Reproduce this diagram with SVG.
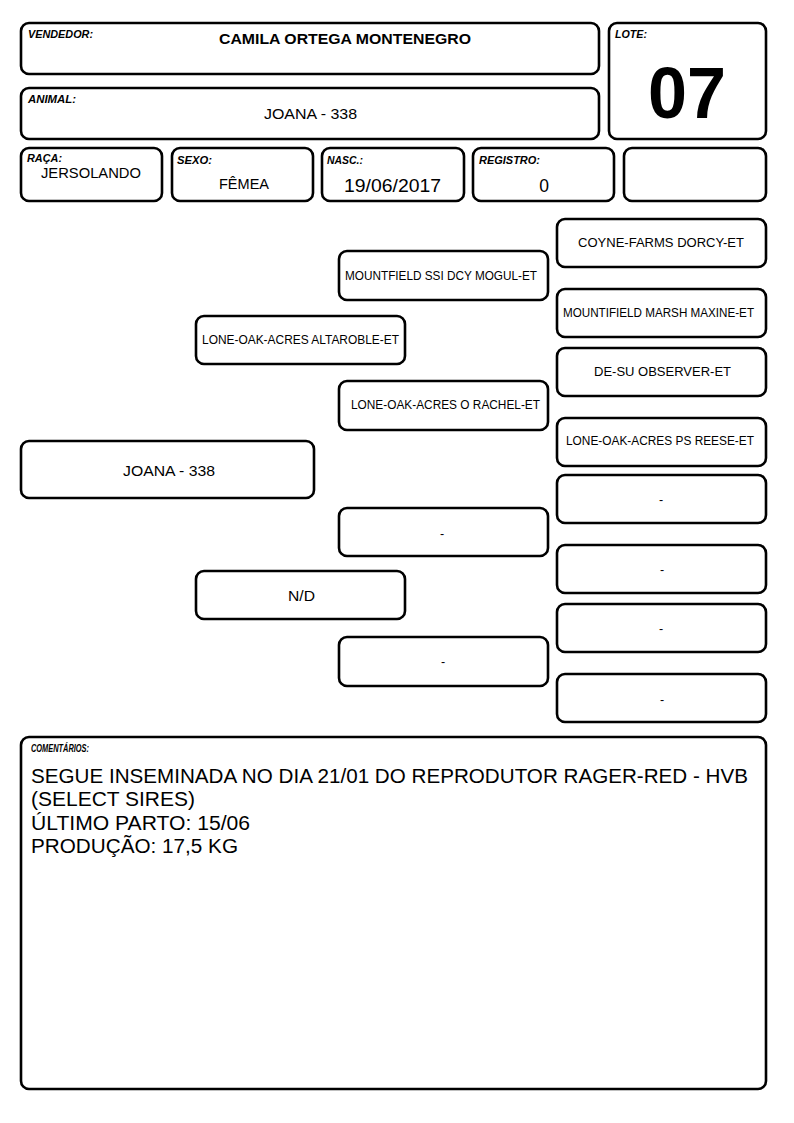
<svg xmlns="http://www.w3.org/2000/svg" width="794" height="1123" viewBox="0 0 794 1123">
<style>
.b{fill:#fff;stroke:#000;stroke-width:2.6}
.l{font-family:"Liberation Sans",Arial,sans-serif;font-weight:bold;font-style:italic;font-size:10px;fill:#000}
.v{font-family:"Liberation Sans",Arial,sans-serif;font-size:15.5px;fill:#000;text-anchor:middle}
.p{font-family:"Liberation Sans",Arial,sans-serif;font-size:12.5px;fill:#000;text-anchor:middle}
.c{font-family:"Liberation Sans",Arial,sans-serif;font-size:20.5px;fill:#000}
</style>
<rect width="794" height="1123" fill="#fff"/>
<g id="vendedor"><rect class="b" x="21" y="23" width="578" height="51" rx="8"/><text class="l" x="28" y="38" textLength="65" lengthAdjust="spacingAndGlyphs">VENDEDOR:</text><text class="v" x="345" y="44" style="font-weight:bold" textLength="252" lengthAdjust="spacingAndGlyphs">CAMILA ORTEGA MONTENEGRO</text></g>
<g id="animal"><rect class="b" x="21" y="88" width="578" height="51" rx="8"/><text class="l" x="28" y="103" textLength="48" lengthAdjust="spacingAndGlyphs">ANIMAL:</text><text class="v" x="310.5" y="119" textLength="93" lengthAdjust="spacingAndGlyphs">JOANA - 338</text></g>
<g id="lote"><rect class="b" x="609" y="23" width="157" height="116" rx="8"/><text class="l" x="615" y="38" textLength="32" lengthAdjust="spacingAndGlyphs">LOTE:</text><text x="687" y="118" textLength="78" lengthAdjust="spacingAndGlyphs" style="font-family:'Liberation Sans',Arial,sans-serif;font-weight:bold;font-size:72px;text-anchor:middle">07</text></g>
<g id="raca"><rect class="b" x="21" y="148" width="141" height="53" rx="8"/><text class="l" x="27" y="162" textLength="35" lengthAdjust="spacingAndGlyphs">RAÇA:</text><text class="v" x="91" y="178" textLength="100" lengthAdjust="spacingAndGlyphs">JERSOLANDO</text></g>
<g id="sexo"><rect class="b" x="172" y="148" width="141" height="53" rx="8"/><text class="l" x="177" y="164" textLength="35" lengthAdjust="spacingAndGlyphs">SEXO:</text><text class="v" x="244" y="189" textLength="50" lengthAdjust="spacingAndGlyphs">FÊMEA</text></g>
<g id="nasc"><rect class="b" x="322" y="148" width="142" height="53" rx="8"/><text class="l" x="327" y="164" textLength="36" lengthAdjust="spacingAndGlyphs">NASC.:</text><text class="v" x="392.5" y="192" style="font-size:17.5px" textLength="97" lengthAdjust="spacingAndGlyphs">19/06/2017</text></g>
<g id="registro"><rect class="b" x="473" y="148" width="141" height="53" rx="8"/><text class="l" x="479" y="164" textLength="61" lengthAdjust="spacingAndGlyphs">REGISTRO:</text><text class="v" x="544" y="192" style="font-size:17.5px">0</text></g>
<g id="extra"><rect class="b" x="624" y="148" width="142" height="53" rx="8"/></g>
<g id="connectors"></g>
<g id="n-animal"><rect class="b" x="21" y="441" width="293" height="57" rx="8"/><text class="v" x="169" y="476" textLength="92" lengthAdjust="spacingAndGlyphs">JOANA - 338</text></g>
<g id="n-pai"><rect class="b" x="196" y="316" width="209" height="48" rx="8"/><text class="p" x="300.5" y="344" textLength="197" lengthAdjust="spacingAndGlyphs">LONE-OAK-ACRES ALTAROBLE-ET</text></g>
<g id="n-mae"><rect class="b" x="196" y="571" width="209" height="48" rx="8"/><text class="v" x="301.5" y="601" textLength="27" lengthAdjust="spacingAndGlyphs">N/D</text></g>
<g id="n-avo1"><rect class="b" x="339" y="251" width="209" height="49" rx="8"/><text class="p" x="441" y="280" textLength="192" lengthAdjust="spacingAndGlyphs">MOUNTFIELD SSI DCY MOGUL-ET</text></g>
<g id="n-avo2"><rect class="b" x="339" y="381" width="209" height="49" rx="8"/><text class="p" x="445.5" y="409" textLength="189" lengthAdjust="spacingAndGlyphs">LONE-OAK-ACRES O RACHEL-ET</text></g>
<g id="n-avo3"><rect class="b" x="339" y="508" width="209" height="48" rx="8"/><text class="p" x="442" y="538">-</text></g>
<g id="n-avo4"><rect class="b" x="339" y="637" width="209" height="49" rx="8"/><text class="p" x="443" y="666">-</text></g>
<g id="n-bis1"><rect class="b" x="557" y="219" width="209" height="48" rx="8"/><text class="p" x="661" y="247" textLength="166" lengthAdjust="spacingAndGlyphs">COYNE-FARMS DORCY-ET</text></g>
<g id="n-bis2"><rect class="b" x="557" y="289" width="209" height="48" rx="8"/><text class="p" x="658.5" y="317" textLength="191" lengthAdjust="spacingAndGlyphs">MOUNTIFIELD MARSH MAXINE-ET</text></g>
<g id="n-bis3"><rect class="b" x="557" y="348" width="209" height="48" rx="8"/><text class="p" x="662.5" y="376" textLength="137" lengthAdjust="spacingAndGlyphs">DE-SU OBSERVER-ET</text></g>
<g id="n-bis4"><rect class="b" x="557" y="418" width="209" height="48" rx="8"/><text class="p" x="660" y="445" textLength="188" lengthAdjust="spacingAndGlyphs">LONE-OAK-ACRES PS REESE-ET</text></g>
<g id="n-bis5"><rect class="b" x="557" y="475" width="209" height="48" rx="8"/><text class="p" x="661" y="504">-</text></g>
<g id="n-bis6"><rect class="b" x="557" y="545" width="209" height="48" rx="8"/><text class="p" x="662" y="574">-</text></g>
<g id="n-bis7"><rect class="b" x="557" y="604" width="209" height="48" rx="8"/><text class="p" x="661" y="633">-</text></g>
<g id="n-bis8"><rect class="b" x="557" y="674" width="209" height="48" rx="8"/><text class="p" x="662" y="704">-</text></g>
<g id="comentarios"><rect class="b" x="21" y="737" width="745" height="352" rx="8"/><text class="l" x="31" y="752" textLength="58" lengthAdjust="spacingAndGlyphs">COMENTÁRIOS:</text>
<text class="c" x="31" y="783" textLength="717" lengthAdjust="spacingAndGlyphs">SEGUE INSEMINADA NO DIA 21/01 DO REPRODUTOR RAGER-RED - HVB</text>
<text class="c" x="31" y="806" textLength="164" lengthAdjust="spacingAndGlyphs">(SELECT SIRES)</text>
<text class="c" x="31" y="830" textLength="219" lengthAdjust="spacingAndGlyphs">ÚLTIMO PARTO: 15/06</text>
<text class="c" x="31" y="853" textLength="207" lengthAdjust="spacingAndGlyphs">PRODUÇÃO: 17,5 KG</text></g>
</svg>
